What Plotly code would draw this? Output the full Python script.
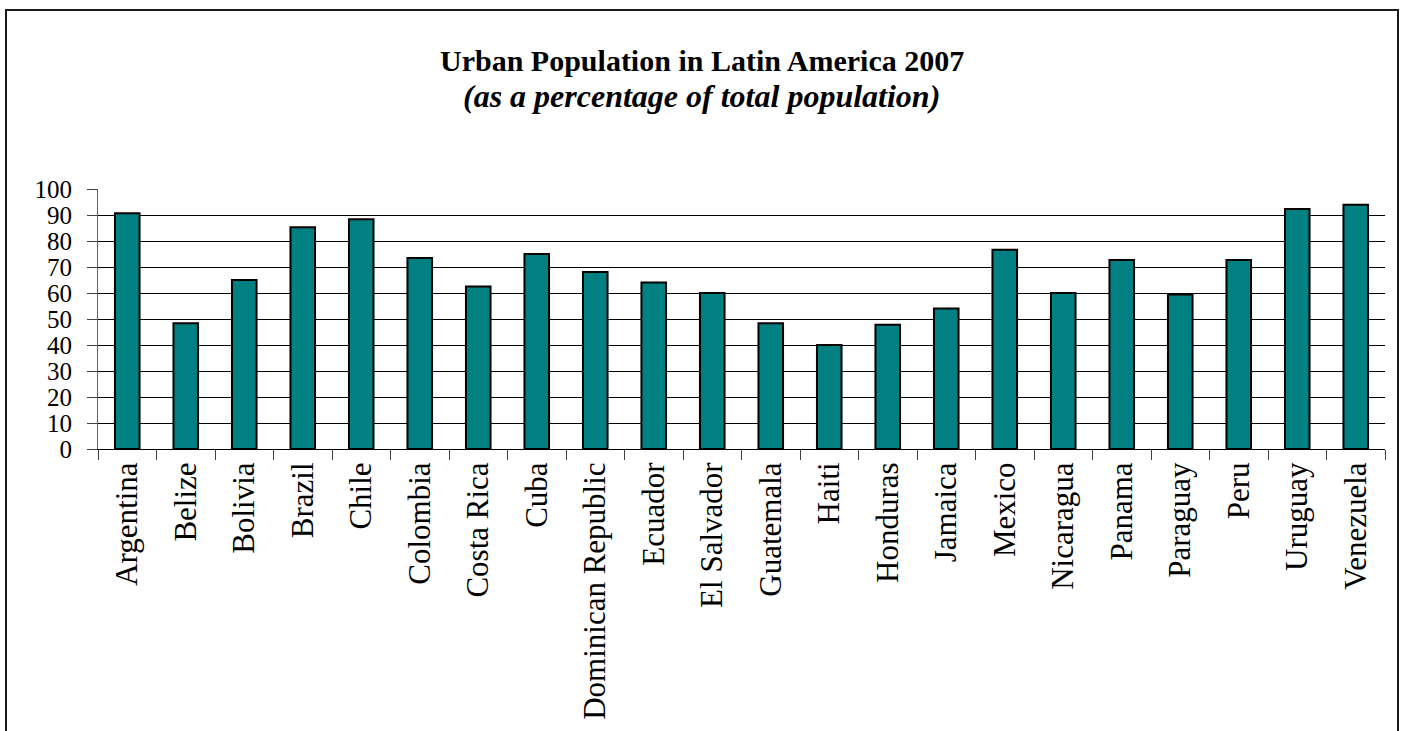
import plotly.graph_objects as go

countries = ["Argentina", "Belize", "Bolivia", "Brazil", "Chile", "Colombia", "Costa Rica",
             "Cuba", "Dominican Republic", "Ecuador", "El Salvador", "Guatemala", "Haiti",
             "Honduras", "Jamaica", "Mexico", "Nicaragua", "Panama", "Paraguay", "Peru",
             "Uruguay", "Venezuela"]
urban_pct = [90.7, 48.4, 65.0, 85.3, 88.4, 73.5, 62.5, 75.0, 68.1, 64.0, 60.0, 48.4, 40.0,
             47.8, 54.0, 76.6, 60.0, 72.7, 59.4, 72.7, 92.3, 93.9]
y_ticks = [0, 10, 20, 30, 40, 50, 60, 70, 80, 90, 100]

title_text = "<b>Urban Population in Latin America 2007</b>"
subtitle_text = "<b><i>(as a percentage of total population)</i></b>"

FONT = "Liberation Serif, Times New Roman, serif"

W, H = 1406, 731
ML, MR, MT, MB = 98, 21, 189, 282
PW, PH = W - ML - MR, H - MT - MB

def px_x(p):
    return (p - ML) / PW

def px_y(p):
    return (H - MB - p) / PH

fig = go.Figure(go.Bar(
    x=countries, y=urban_pct,
    marker=dict(color="#008080", line=dict(color="black", width=2)),
))

fig.update_layout(
    width=W, height=H,
    margin=dict(l=ML, r=MR, t=MT, b=MB, pad=0),
    paper_bgcolor="white", plot_bgcolor="white",
    bargap=0.58,
    showlegend=False,
    font=dict(family=FONT, color="black"),
    annotations=[
        dict(text=title_text, x=px_x(702), y=px_y(60), xref="paper", yref="paper",
             xanchor="center", yanchor="middle", showarrow=False,
             font=dict(family=FONT, size=30, color="black")),
        dict(text=subtitle_text, x=px_x(701), y=px_y(96), xref="paper", yref="paper",
             xanchor="center", yanchor="middle", showarrow=False,
             font=dict(family=FONT, size=32, color="black")),
    ],
    shapes=[
        dict(type="rect", xref="paper", yref="paper",
             x0=px_x(6), x1=px_x(1398), y0=px_y(760), y1=px_y(10),
             line=dict(color="#1a1a1a", width=2), fillcolor="rgba(0,0,0,0)", layer="below"),
    ],
)

fig.update_xaxes(
    type="category",
    showline=True, linecolor="black", linewidth=1,
    ticks="outside", ticklen=10, tickcolor="#404040", tickwidth=1,
    tickson="boundaries",
    tickangle=-90,
    tickfont=dict(family=FONT, size=31, color="black"),
    showgrid=False,
)

fig.update_yaxes(
    range=[0, 100],
    tickvals=y_ticks,
    showline=True, linecolor="#606060", linewidth=1,
    ticks="outside", ticklen=10, tickcolor="#404040", tickwidth=1,
    ticklabelstandoff=10,
    tickfont=dict(family=FONT, size=25, color="black"),
    showgrid=True, gridcolor="black", gridwidth=1,
    zeroline=False,
)

fig.write_html("out.html")
